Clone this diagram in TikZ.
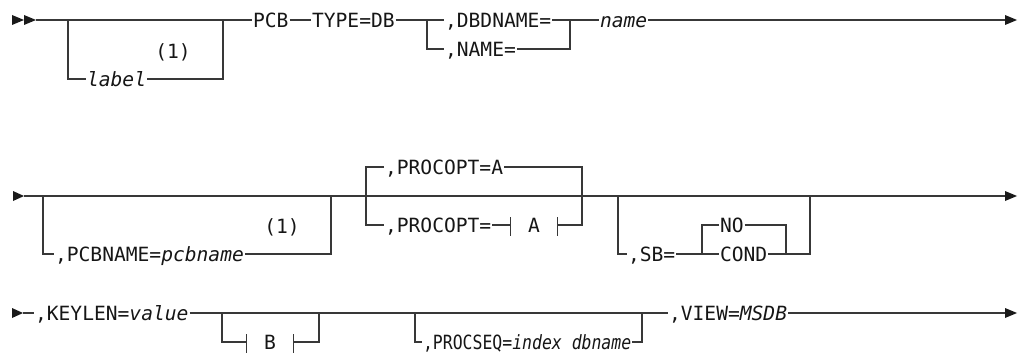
\documentclass[tikz,border=0pt]{standalone}
\usepackage{fontspec}
\newfontfamily\dmono{DejaVu Sans Mono}[ItalicFont={DejaVu Sans Mono Oblique}]
\newfontfamily\dmonoc{DejaVu Sans Mono}[FakeStretch=0.84, ItalicFont={DejaVu Sans Mono Oblique}, ItalicFeatures={FakeStretch=0.84}]
\definecolor{linec}{HTML}{383838}
\definecolor{txtcol}{HTML}{161616}
\definecolor{tipc}{HTML}{1A1A1A}
\tikzset{
  txt/.style={font=\dmono\fontsize{14.7}{16}\selectfont, text=txtcol, inner ysep=0pt, inner xsep=0.6pt, text height=10.7pt, text depth=0pt},
  txtnarrow/.style={txt, font=\dmonoc\fontsize{14.7}{16}\selectfont},
  ln/.style={draw=linec, line width=1.1pt},
  frag/.style={txt, minimum width=34.5pt},
  tipfill/.style={fill=tipc}
}
\begin{document}
\begin{tikzpicture}[x=0.75pt,y=-0.75pt]
\useasboundingbox (0,0) rectangle (1019,360);
% ---------------- Row 1 ----------------
\coordinate (r1s) at (36,20);
\coordinate (lb1) at (68,20);
\coordinate (lb2) at (223,20);
\node[txt,anchor=west] (pcb) at (252,20) {PCB};
\node[txt,anchor=west] (type) at (311,20) {TYPE=DB};
\node[txt,anchor=west] (label) at (86,79) {\itshape label};
\node[txt] (n1a) at (173,51) {(1)};
\coordinate (c1) at (427,20);
\coordinate (c2) at (570,20);
\node[txt,anchor=west] (dbd) at (444,20) {,DBDNAME=};
\node[txt,anchor=west] (nm) at (444,49) {,NAME=};
\node[txt,anchor=west] (name) at (599,20) {\itshape name};
\coordinate (e1) at (1005,20);
\fill[tipfill] (12,15) -- (24,20) -- (12,25) -- cycle;
\fill[tipfill] (24,15) -- (36,20) -- (24,25) -- cycle;
\draw[ln] (r1s) -- (pcb.west);
\draw[ln] (lb1) |- (label.west);
\draw[ln] (label.east) -| (lb2);
\draw[ln] (pcb.east) -- (type.west);
\draw[ln] (type.east) -- (dbd.west);
\draw[ln] (c1) |- (nm.west);
\draw[ln] (dbd.east) -- (name.west);
\draw[ln] (nm.east) -| (c2);
\draw[ln] (name.east) -- (e1);
\fill[tipfill] (1005,15) -- (1017,20) -- (1005,25) -- cycle;
% ---------------- Row 2 ----------------
\coordinate (r2s) at (24,196);
\coordinate (e2) at (1005,196);
\fill[tipfill] (13,191) -- (24,196) -- (13,201) -- cycle;
\draw[ln] (r2s) -- (e2);
\fill[tipfill] (1005,191) -- (1017,196) -- (1005,201) -- cycle;
\coordinate (p1) at (43,196);
\coordinate (p2) at (331,196);
\node[txt,anchor=west] (pcbn) at (54,254) {,PCBNAME=\textit{pcbname}};
\node[txt] (n1b) at (282,226) {(1)};
\draw[ln] (p1) |- (pcbn.west);
\draw[ln] (pcbn.east) -| (p2);
\coordinate (q1) at (366,196);
\coordinate (q2) at (582,196);
\node[txt,anchor=west] (pa) at (384,167) {,PROCOPT=A};
\node[txt,anchor=west] (pb) at (384,225) {,PROCOPT=};
\node[frag] (fa) at (534,225) {A};
\draw[ln] (pa.west) -| (q1) |- (pb.west);
\draw[ln] (pa.east) -| (q2) |- (fa.east);
\draw[ln] (pb.east) -- (fa.west);
\draw[ln] ([yshift=6pt]fa.west) -- ([yshift=-8pt]fa.west);
\draw[ln] ([yshift=6pt]fa.east) -- ([yshift=-8pt]fa.east);
\coordinate (s1) at (618,196);
\coordinate (s2) at (810,196);
\node[txt,anchor=west] (sb) at (627,254) {,SB=};
\coordinate (k1) at (702,254);
\coordinate (k2) at (786,254);
\node[txt,anchor=west] (no) at (719,225) {NO};
\node[txt,anchor=west] (cond) at (719,254) {COND};
\draw[ln] (s1) |- (sb.west);
\draw[ln] (sb.east) -- (cond.west);
\draw[ln] (no.west) -| (k1);
\draw[ln] (no.east) -| (k2);
\draw[ln] (cond.east) -- (k2) -| (s2);
% ---------------- Row 3 ----------------
\coordinate (r3s) at (23,313);
\coordinate (e3) at (1005,313);
\fill[tipfill] (12,308) -- (23,313) -- (12,318) -- cycle;
\node[txt,anchor=west] (key) at (34,313) {,KEYLEN=\textit{value}};
\node[txt,anchor=west] (view) at (668,313) {,VIEW=\textit{MSDB}};
\draw[ln] (r3s) -- (key.west);
\draw[ln] (key.east) -- (view.west);
\draw[ln] (view.east) -- (e3);
\fill[tipfill] (1005,308) -- (1017,313) -- (1005,318) -- cycle;
\coordinate (b1) at (222,313);
\coordinate (b2) at (319,313);
\node[frag] (fb) at (270,342) {B};
\draw[ln] (b1) |- (fb.west);
\draw[ln] (fb.east) -| (b2);
\draw[ln] ([yshift=6pt]fb.west) -- ([yshift=-8pt]fb.west);
\draw[ln] ([yshift=6pt]fb.east) -- ([yshift=-8pt]fb.east);
\coordinate (ps1) at (415,313);
\coordinate (ps2) at (642,313);
\node[txtnarrow,anchor=west] (pseq) at (422,342) {,PROCSEQ=\textit{index dbname}};
\draw[ln] (ps1) |- (pseq.west);
\draw[ln] (pseq.east) -| (ps2);
\end{tikzpicture}
\end{document}
